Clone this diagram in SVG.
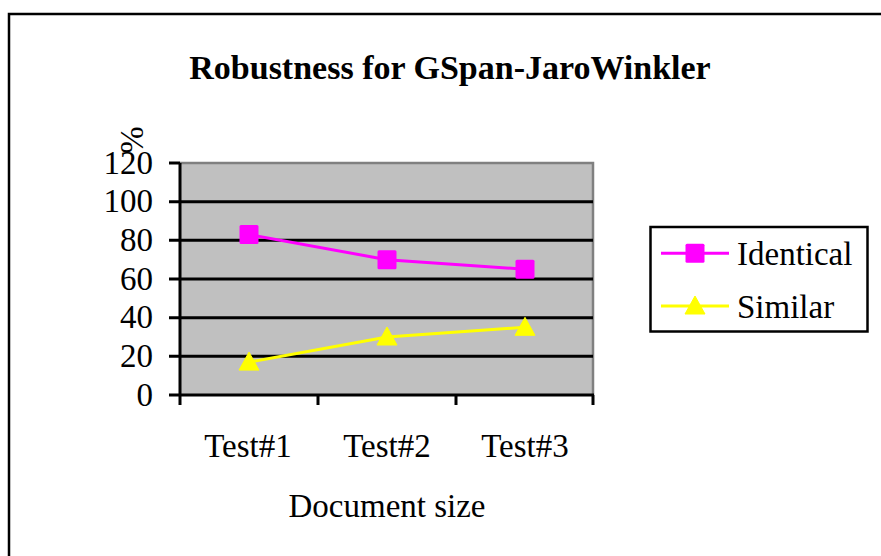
<svg xmlns="http://www.w3.org/2000/svg" width="881" height="556" viewBox="0 0 881 556">
<style>
.grid{stroke:#000;stroke-width:3}
.ax{stroke:#000;stroke-width:3;fill:none}
.idl{stroke:#ff00ff;stroke-width:3;fill:none}
.siml{stroke:#ffff00;stroke-width:3;fill:none}
</style>
<defs>
<rect id="sq" x="-9.5" y="-9.5" width="19" height="19" rx="1.5" fill="#ff00ff"/>
<path id="tri" d="M0,-10 L10,8 L-10,8 Z" fill="#ffff00" stroke="#ffff00" stroke-width="1" stroke-linejoin="round"/>
</defs>
<rect width="881" height="556" fill="#fff"/>
<path d="M9,556 V14 H881" fill="none" stroke="#000" stroke-width="2.5"/>
<g id="title"><text font-family="Liberation Serif" font-size="34" font-weight="bold" fill="#000" x="450" y="79" text-anchor="middle">Robustness for GSpan-JaroWinkler</text></g>
<g id="plot">
<rect x="180" y="163" width="413" height="232" fill="#c0c0c0"/>
<path d="M180,163 H593 V395" fill="none" stroke="#808080" stroke-width="2.5"/>
<g class="grid">
<line x1="169" y1="201.7" x2="593" y2="201.7"/>
<line x1="169" y1="240.3" x2="593" y2="240.3"/>
<line x1="169" y1="279" x2="593" y2="279"/>
<line x1="169" y1="317.7" x2="593" y2="317.7"/>
<line x1="169" y1="356.3" x2="593" y2="356.3"/>
<line x1="169" y1="163" x2="180" y2="163"/>
</g>
<path class="ax" d="M180,163 V405 M169,395 H594 M318,395 V405 M456,395 V405 M593,395 V405"/>
</g>
<g id="yaxis-labels" font-family="Liberation Serif" font-size="33" fill="#000" text-anchor="end">
<text font-family="Liberation Serif" x="153" y="173.5">120</text>
<text font-family="Liberation Serif" x="153" y="212.2">100</text>
<text font-family="Liberation Serif" x="153" y="250.8">80</text>
<text font-family="Liberation Serif" x="153" y="289.5">60</text>
<text font-family="Liberation Serif" x="153" y="328.2">40</text>
<text font-family="Liberation Serif" x="153" y="366.8">20</text>
<text font-family="Liberation Serif" x="153" y="405.5">0</text>
<text font-family="Liberation Serif" transform="translate(143,140) rotate(-90)" text-anchor="middle">%</text>
</g>
<g id="xaxis-labels" font-family="Liberation Serif" font-size="33" fill="#000" text-anchor="middle">
<text font-family="Liberation Serif" x="248" y="457">Test#1</text>
<text font-family="Liberation Serif" x="387" y="457">Test#2</text>
<text font-family="Liberation Serif" x="525" y="457">Test#3</text>
<text font-family="Liberation Serif" x="387" y="517">Document size</text>
</g>
<g id="connectors">
<polyline class="idl" points="249,234.5 387,259.7 525,269.3"/>
<polyline class="siml" points="249,362.1 387,337 525,327.3"/>
</g>
<g id="series-identical">
<use href="#sq" x="249" y="234.5"/>
<use href="#sq" x="387" y="259.7"/>
<use href="#sq" x="525" y="269.3"/>
</g>
<g id="series-similar">
<use href="#tri" x="249" y="362.1"/>
<use href="#tri" x="387" y="337"/>
<use href="#tri" x="525" y="327.3"/>
</g>
<g id="legend" font-family="Liberation Serif" font-size="33" fill="#000">
<rect x="650.5" y="227" width="217" height="104.5" fill="#fff" stroke="#000" stroke-width="2.5"/>
<line x1="661" y1="253.3" x2="729" y2="253.3" class="idl"/>
<use href="#sq" x="695" y="253.3"/>
<text font-family="Liberation Serif" x="737" y="265">Identical</text>
<line x1="661" y1="306" x2="729" y2="306" class="siml"/>
<use href="#tri" x="695" y="306"/>
<text font-family="Liberation Serif" x="737" y="318">Similar</text>
</g>
</svg>
